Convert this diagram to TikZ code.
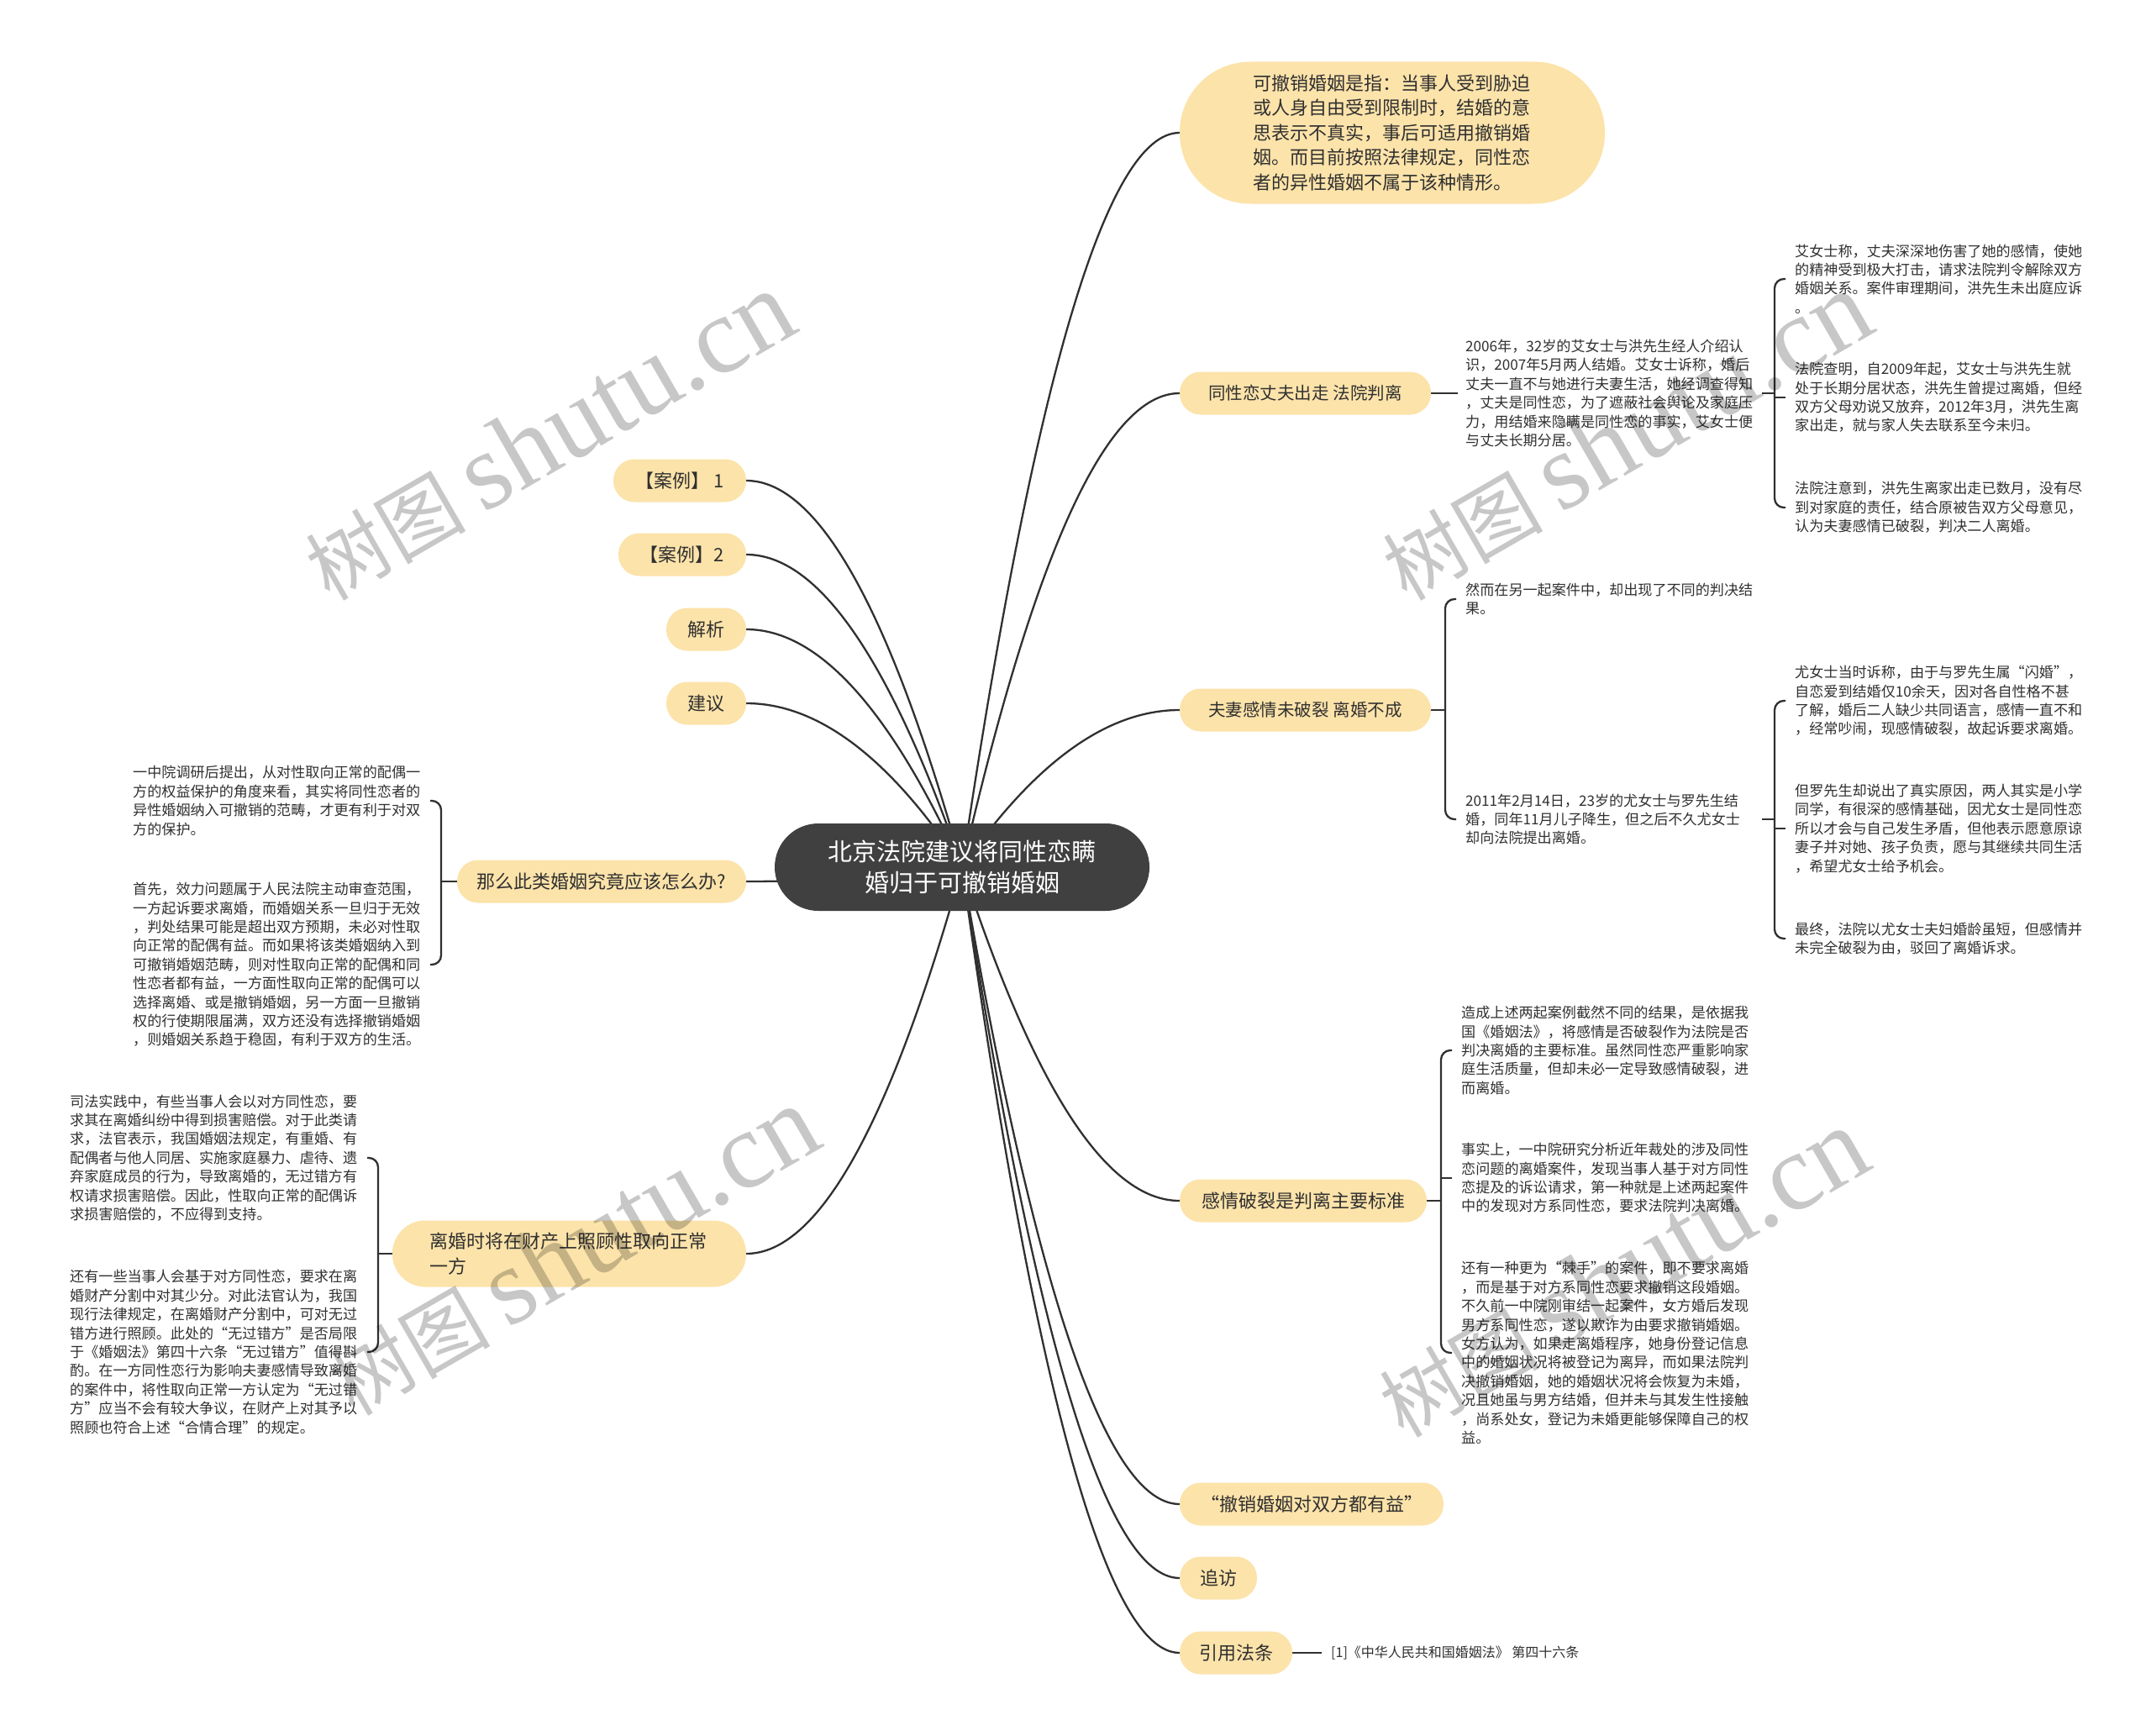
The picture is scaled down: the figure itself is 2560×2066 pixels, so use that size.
\documentclass[tikz,border=0pt]{standalone}
\usepackage{fontspec}
\setmainfont{Noto Sans CJK SC}
\newfontfamily\wmlatin{Liberation Serif}
\usetikzlibrary{calc}
\definecolor{peach}{RGB}{252,227,170}
\definecolor{ink}{RGB}{48,48,48}
\definecolor{hub}{RGB}{64,64,64}
\pgfdeclarelayer{bg}
\pgfsetlayers{bg,main}
\begin{document}
\begin{tikzpicture}[x=1pt,y=-1pt,
  every node/.style={inner sep=0pt, text=ink},
  topic/.style={fill=peach, rounded corners=25pt, minimum height=51pt, font=\fontsize{22}{29.5}\selectfont, align=center},
  leaf/.style={anchor=west, align=left, font=\fontsize{17.1}{22.4}\selectfont},
  mm/.style={to path={let \p1=(\tikztostart), \p2=(\tikztotarget) in .. controls ({\x1+(\x2-\x1)/3},{\y1+2*(\y2-\y1)/3}) and ({\x2-(\x2-\x1)/3},\y2) .. (\tikztotarget)}},
  link/.style={draw=ink, line width=2.3pt},
  brace/.style={draw=ink, line width=2.3pt, rounded corners=11pt},
  wm/.style={rotate=30, opacity=0.22, text=black},
]
\useasboundingbox (0,0) rectangle (2560,2066);

% central topic
\node[fill=hub, text=white, rounded corners=52pt, minimum width=446pt, minimum height=104pt, align=center, font=\fontsize{29}{37}\selectfont] (c) at (1145,1032) {北京法院建议将同性恋瞒\\婚归于可撤销婚姻};

% right main topics
\node[topic, rounded corners=84pt, minimum width=506pt, minimum height=169pt, text width=332pt, align=left] (k) at (1657,158) {可撤销婚姻是指：当事人受到胁迫\\或人身自由受到限制时，结婚的意\\思表示不真实，事后可适用撤销婚\\姻。而目前按照法律规定，同性恋\\者的异性婚姻不属于该种情形。};
\node[topic, minimum width=299pt] (r1) at (1553.5,468) {\fontsize{20.5}{26}\selectfont 同性恋丈夫出走 法院判离};
\node[topic, minimum width=299pt] (r2) at (1553.5,845) {\fontsize{20.5}{26}\selectfont 夫妻感情未破裂 离婚不成};
\node[topic, minimum width=294pt] (r3) at (1551,1429) {感情破裂是判离主要标准};
\node[topic, minimum width=314pt] (r4) at (1561,1790) {“撤销婚姻对双方都有益”};
\node[topic, minimum width=92pt] (r5) at (1450,1878) {追访};
\node[topic, minimum width=134pt] (r6) at (1471,1967) {引用法条};

% left main topics
\node[topic, minimum width=158pt] (l1) at (809,572) {【案例】 1};
\node[topic, minimum width=152pt] (l2) at (812,660) {【案例】2};
\node[topic, minimum width=95pt] (l3) at (840.5,749) {解析};
\node[topic, minimum width=95pt] (l4) at (840.5,837) {建议};
\node[topic, minimum width=344pt] (l5) at (716,1049) {那么此类婚姻究竟应该怎么办?};
\node[topic, rounded corners=39pt, minimum width=421pt, minimum height=79pt, text width=332pt, align=left] (l6) at (677.5,1492) {离婚时将在财产上照顾性取向正常\\一方};

% leaves of r1
\node[leaf] (a0) at (1744,468) {2006年，32岁的艾女士与洪先生经人介绍认\\识，2007年5月两人结婚。艾女士诉称，婚后\\丈夫一直不与她进行夫妻生活，她经调查得知\\，丈夫是同性恋，为了遮蔽社会舆论及家庭压\\力，用结婚来隐瞒是同性恋的事实，艾女士便\\与丈夫长期分居。};
\node[leaf] (a1) at (2136,332) {艾女士称，丈夫深深地伤害了她的感情，使她\\的精神受到极大打击，请求法院判令解除双方\\婚姻关系。案件审理期间，洪先生未出庭应诉\\。};
\node[leaf] (a2) at (2136,473) {法院查明，自2009年起，艾女士与洪先生就\\处于长期分居状态，洪先生曾提过离婚，但经\\双方父母劝说又放弃，2012年3月，洪先生离\\家出走，就与家人失去联系至今未归。};
\node[leaf] (a3) at (2136,604) {法院注意到，洪先生离家出走已数月，没有尽\\到对家庭的责任，结合原被告双方父母意见，\\认为夫妻感情已破裂，判决二人离婚。};

% leaves of r2
\node[leaf] (b1) at (1744,713) {然而在另一起案件中，却出现了不同的判决结\\果。};
\node[leaf] (b2) at (1744,975) {2011年2月14日，23岁的尤女士与罗先生结\\婚，同年11月儿子降生，但之后不久尤女士\\却向法院提出离婚。};
\node[leaf] (b3) at (2136,834) {尤女士当时诉称，由于与罗先生属“闪婚”，\\自恋爱到结婚仅10余天，因对各自性格不甚\\了解，婚后二人缺少共同语言，感情一直不和\\，经常吵闹，现感情破裂，故起诉要求离婚。};
\node[leaf] (b4) at (2136,986) {但罗先生却说出了真实原因，两人其实是小学\\同学，有很深的感情基础，因尤女士是同性恋\\所以才会与自己发生矛盾，但他表示愿意原谅\\妻子并对她、孩子负责，愿与其继续共同生活\\，希望尤女士给予机会。};
\node[leaf] (b5) at (2136,1117) {最终，法院以尤女士夫妇婚龄虽短，但感情并\\未完全破裂为由，驳回了离婚诉求。};

% leaves of r3
\node[leaf] (d1) at (1739,1250) {造成上述两起案例截然不同的结果，是依据我\\国《婚姻法》，将感情是否破裂作为法院是否\\判决离婚的主要标准。虽然同性恋严重影响家\\庭生活质量，但却未必一定导致感情破裂，进\\而离婚。};
\node[leaf] (d2) at (1739,1402) {事实上，一中院研究分析近年裁处的涉及同性\\恋问题的离婚案件，发现当事人基于对方同性\\恋提及的诉讼请求，第一种就是上述两起案件\\中的发现对方系同性恋，要求法院判决离婚。};
\node[leaf] (d3) at (1739,1610) {还有一种更为“棘手”的案件，即不要求离婚\\，而是基于对方系同性恋要求撤销这段婚姻。\\不久前一中院刚审结一起案件，女方婚后发现\\男方系同性恋，遂以欺诈为由要求撤销婚姻。\\女方认为，如果走离婚程序，她身份登记信息\\中的婚姻状况将被登记为离异，而如果法院判\\决撤销婚姻，她的婚姻状况将会恢复为未婚，\\况且她虽与男方结婚，但并未与其发生性接触\\，尚系处女，登记为未婚更能够保障自己的权\\益。};

% leaf of r6
\node[leaf, font=\fontsize{16}{20}\selectfont] (e1) at (1584,1967) {[1]《中华人民共和国婚姻法》 第四十六条};

% leaves of l5
\node[leaf] (f1) at (158,953) {一中院调研后提出，从对性取向正常的配偶一\\方的权益保护的角度来看，其实将同性恋者的\\异性婚姻纳入可撤销的范畴，才更有利于对双\\方的保护。};
\node[leaf] (f2) at (158,1148) {首先，效力问题属于人民法院主动审查范围，\\一方起诉要求离婚，而婚姻关系一旦归于无效\\，判处结果可能是超出双方预期，未必对性取\\向正常的配偶有益。而如果将该类婚姻纳入到\\可撤销婚姻范畴，则对性取向正常的配偶和同\\性恋者都有益，一方面性取向正常的配偶可以\\选择离婚、或是撤销婚姻，另一方面一旦撤销\\权的行使期限届满，双方还没有选择撤销婚姻\\，则婚姻关系趋于稳固，有利于双方的生活。};

% leaves of l6
\node[leaf] (g1) at (83,1378) {司法实践中，有些当事人会以对方同性恋，要\\求其在离婚纠纷中得到损害赔偿。对于此类请\\求，法官表示，我国婚姻法规定，有重婚、有\\配偶者与他人同居、实施家庭暴力、虐待、遗\\弃家庭成员的行为，导致离婚的，无过错方有\\权请求损害赔偿。因此，性取向正常的配偶诉\\求损害赔偿的，不应得到支持。};
\node[leaf] (g2) at (83,1609) {还有一些当事人会基于对方同性恋，要求在离\\婚财产分割中对其少分。对此法官认为，我国\\现行法律规定，在离婚财产分割中，可对无过\\错方进行照顾。此处的“无过错方”是否局限\\于《婚姻法》第四十六条“无过错方”值得斟\\酌。在一方同性恋行为影响夫妻感情导致离婚\\的案件中，将性取向正常一方认定为“无过错\\方”应当不会有较大争议，在财产上对其予以\\照顾也符合上述“合情合理”的规定。};

% bracket helper points
\coordinate (qa) at ([xshift=-24pt]a1.west);
\coordinate (qb) at ([xshift=-24pt]b1.west);
\coordinate (qc) at ([xshift=-24pt]b3.west);
\coordinate (qd) at ([xshift=-24pt]d1.west);
\coordinate (qf) at ([xshift=367pt]f1.west);
\coordinate (qg) at ([xshift=367pt]g1.west);

\begin{pgfonlayer}{bg}
\fill[white] (0,0) rectangle (2560,2066);
% central curves
\draw[link] (c.center) to[mm] (k.west);
\draw[link] (c.center) to[mm] (r1.west);
\draw[link] (c.center) to[mm] (r2.west);
\draw[link] (c.center) to[mm] (r3.west);
\draw[link] (c.center) to[mm] (r4.west);
\draw[link] (c.center) to[mm] (r5.west);
\draw[link] (c.center) to[mm] (r6.west);
\draw[link] (c.center) to[mm] (l1.east);
\draw[link] (c.center) to[mm] (l2.east);
\draw[link] (c.center) to[mm] (l3.east);
\draw[link] (c.center) to[mm] (l4.east);
\draw[link] (c.center) to[mm] (l5.east);
\draw[link] (c.center) to[mm] (l6.east);
% r1 group
\draw[link] (r1.east) -- ([xshift=-9pt]a0.west);
\draw[link] ([xshift=353pt]a0.west) -- (qa |- a0.west);
\draw[brace] ([xshift=-11pt]a1.west) -- (qa) -- ([xshift=-24pt]a3.west) -- ([xshift=-11pt]a3.west);
\draw[link] ([xshift=-24pt]a2.west) -- ([xshift=-11pt]a2.west);
% r2 group
\draw[link] (r2.east) -- (qb |- r2.east);
\draw[brace] ([xshift=-11pt]b1.west) -- (qb) -- ([xshift=-24pt]b2.west) -- ([xshift=-11pt]b2.west);
\draw[link] ([xshift=353pt]b2.west) -- (qc |- b2.west);
\draw[brace] ([xshift=-11pt]b3.west) -- (qc) -- ([xshift=-24pt]b5.west) -- ([xshift=-11pt]b5.west);
\draw[link] ([xshift=-24pt]b4.west) -- ([xshift=-11pt]b4.west);
% r3 group
\draw[link] (r3.east) -- (qd |- r3.east);
\draw[brace] ([xshift=-11pt]d1.west) -- (qd) -- ([xshift=-24pt]d3.west) -- ([xshift=-11pt]d3.west);
\draw[link] ([xshift=-24pt]d2.west) -- ([xshift=-11pt]d2.west);
% r6 leaf
\draw[link] (r6.east) -- ([xshift=-11pt]e1.west);
% l5 group
\draw[link] (l5.west) -- (qf |- l5.west);
\draw[brace] ([xshift=354pt]f1.west) -- (qf) -- ([xshift=367pt]f2.west) -- ([xshift=354pt]f2.west);
% l6 group
\draw[link] (l6.west) -- (qg |- l6.west);
\draw[brace] ([xshift=354pt]g1.west) -- (qg) -- ([xshift=367pt]g2.west) -- ([xshift=354pt]g2.west);
\end{pgfonlayer}

% watermarks
\node[wm] (w1) at (653,519) {\fontsize{95}{95}\selectfont 树图 {\wmlatin\fontsize{130}{130}\selectfont shutu.cn}};
\node[wm] (w2) at (1935,519) {\fontsize{95}{95}\selectfont 树图 {\wmlatin\fontsize{130}{130}\selectfont shutu.cn}};
\node[wm] (w3) at (682,1489) {\fontsize{95}{95}\selectfont 树图 {\wmlatin\fontsize{130}{130}\selectfont shutu.cn}};
\node[wm] (w4) at (1931,1515) {\fontsize{95}{95}\selectfont 树图 {\wmlatin\fontsize{130}{130}\selectfont shutu.cn}};
\end{tikzpicture}
\end{document}
